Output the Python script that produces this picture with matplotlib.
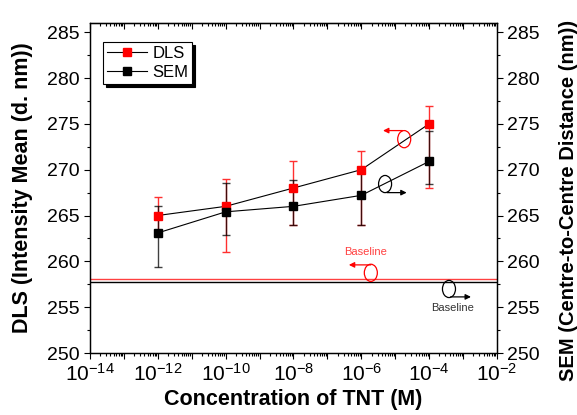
import numpy as np
import matplotlib
matplotlib.use('Agg')
import matplotlib.pyplot as plt
from matplotlib.patches import Ellipse
from matplotlib.ticker import FixedLocator, FuncFormatter, LogLocator, MultipleLocator, NullFormatter

plt.rcParams['font.family'] = ['Liberation Sans', 'DejaVu Sans']

# data
conc = [1e-12, 1e-10, 1e-8, 1e-6, 1e-4]
dls_mean = [265.0, 266.0, 268.0, 270.0, 275.0]
dls_lo = [263.0, 261.0, 264.0, 264.0, 268.0]
dls_hi = [267.0, 269.0, 271.0, 272.0, 277.0]
sem_mean = [263.1, 265.4, 266.0, 267.2, 270.9]
sem_lo = [259.4, 262.9, 264.0, 264.0, 268.4]
sem_hi = [266.0, 268.5, 268.9, 270.0, 274.2]
dls_baseline = 258.1
sem_baseline = 257.7

dls_err = [np.subtract(dls_mean, dls_lo), np.subtract(dls_hi, dls_mean)]
sem_err = [np.subtract(sem_mean, sem_lo), np.subtract(sem_hi, sem_mean)]

fig = plt.figure(figsize=(5.77, 4.15), dpi=100)
ax = fig.add_axes([90 / 577, 62 / 415, 407 / 577, 330 / 415])

ax.axhline(dls_baseline, color='#ff4040', lw=1.0)
ax.axhline(sem_baseline, color='black', lw=1.0)

ax.errorbar(conc, dls_mean, yerr=dls_err, fmt='none', ecolor='#ff3030',
            elinewidth=1.0, capsize=3, capthick=1.0, zorder=3)
ax.errorbar(conc, sem_mean, yerr=sem_err, fmt='none', ecolor='black',
            elinewidth=1.0, capsize=3, capthick=1.0, alpha=0.75, zorder=3)
ax.plot(conc, dls_mean, '-s', color='black', mfc='red', mec='red', ms=6,
        lw=0.8, label='DLS', zorder=4)
ax.plot(conc, sem_mean, '-s', color='black', mfc='black', mec='black', ms=6,
        lw=0.8, label='SEM', zorder=4)

ax.set_xscale('log')
ax.set_xlim(1e-14, 1e-2)
ax.set_ylim(250, 286)

majors = [10.0 ** k for k in range(-14, -1)]
def even_labels(v, pos):
    k = int(round(np.log10(v)))
    return r'$\mathregular{10^{%d}}$' % k if k % 2 == 0 else ''
ax.xaxis.set_major_locator(FixedLocator(majors))
ax.xaxis.set_major_formatter(FuncFormatter(even_labels))
ax.xaxis.set_minor_locator(LogLocator(base=10, subs=np.arange(2, 10), numticks=100))
ax.xaxis.set_minor_formatter(NullFormatter())
ax.yaxis.set_major_locator(MultipleLocator(5))
ax.yaxis.set_minor_locator(MultipleLocator(2.5))

ax.tick_params(which='both', direction='out', labelsize=14, top=False, right=False)
ax.tick_params(which='major', length=4, width=0.8)
ax.tick_params(which='minor', length=2.2, width=0.8)
ax.tick_params(axis='x', labelsize=15, pad=3)

top = ax.secondary_xaxis('top')
top.xaxis.set_major_locator(FixedLocator(majors))
top.xaxis.set_minor_locator(LogLocator(base=10, subs=np.arange(2, 10), numticks=100))
top.tick_params(which='both', direction='in', labeltop=False, width=0.8)
top.tick_params(which='major', length=4)
top.tick_params(which='minor', length=2.2)

ax2 = ax.twinx()
ax2.set_ylim(250, 286)
ax2.yaxis.set_major_locator(MultipleLocator(5))
ax2.yaxis.set_minor_locator(MultipleLocator(2.5))
ax2.tick_params(which='both', direction='out', labelsize=14, width=0.8)
ax2.tick_params(which='major', length=4)
ax2.tick_params(which='minor', length=2.2)

for a in (ax, ax2):
    for s in a.spines.values():
        s.set_linewidth(0.9)

ax.set_xlabel('Concentration of TNT (M)', fontsize=15.5, fontweight='bold', labelpad=3)
ax.set_ylabel('DLS (Intensity Mean (d. nm))', fontsize=15.5, fontweight='bold')
ax.yaxis.set_label_coords(-0.140, 0.5)
ax2.set_ylabel('SEM (Centre-to-Centre Distance (nm))', fontsize=14.5, fontweight='bold')
ax2.yaxis.set_label_coords(1.152, 0.462)

leg = ax.legend(loc='upper left', bbox_to_anchor=(0.032, 0.942), borderaxespad=0,
                fontsize=12, frameon=True, fancybox=False, edgecolor='black',
                shadow={'color': 'black', 'alpha': 1.0}, handlelength=2.4,
                borderpad=0.25, labelspacing=0.2, handletextpad=0.3)
leg.get_frame().set_linewidth(0.8)

# ellipse + arrow markers pointing to the matching axis
def marker(cx, cy, x0, x1, ay, color):
    ax.add_patch(Ellipse((cx, cy), 0.032, 0.052, transform=ax.transAxes,
                         fill=False, edgecolor=color, lw=0.9, zorder=5))
    ax.annotate('', xy=(x1, ay), xytext=(x0, ay), xycoords='axes fraction',
                arrowprops=dict(arrowstyle='-|>', color=color, lw=0.9,
                                mutation_scale=8, shrinkA=0, shrinkB=0))

marker(0.772, 0.648, 0.768, 0.720, 0.674, 'red')
marker(0.725, 0.512, 0.730, 0.778, 0.486, 'black')
marker(0.690, 0.243, 0.690, 0.636, 0.267, 'red')
marker(0.882, 0.194, 0.886, 0.936, 0.170, 'black')

ax.text(0.678, 0.306, 'Baseline', color='#ff4040', fontsize=8,
        transform=ax.transAxes, ha='center', va='center')
ax.text(0.892, 0.136, 'Baseline', color='#333333', fontsize=8,
        transform=ax.transAxes, ha='center', va='center')

fig.savefig('out.png', dpi=100)
